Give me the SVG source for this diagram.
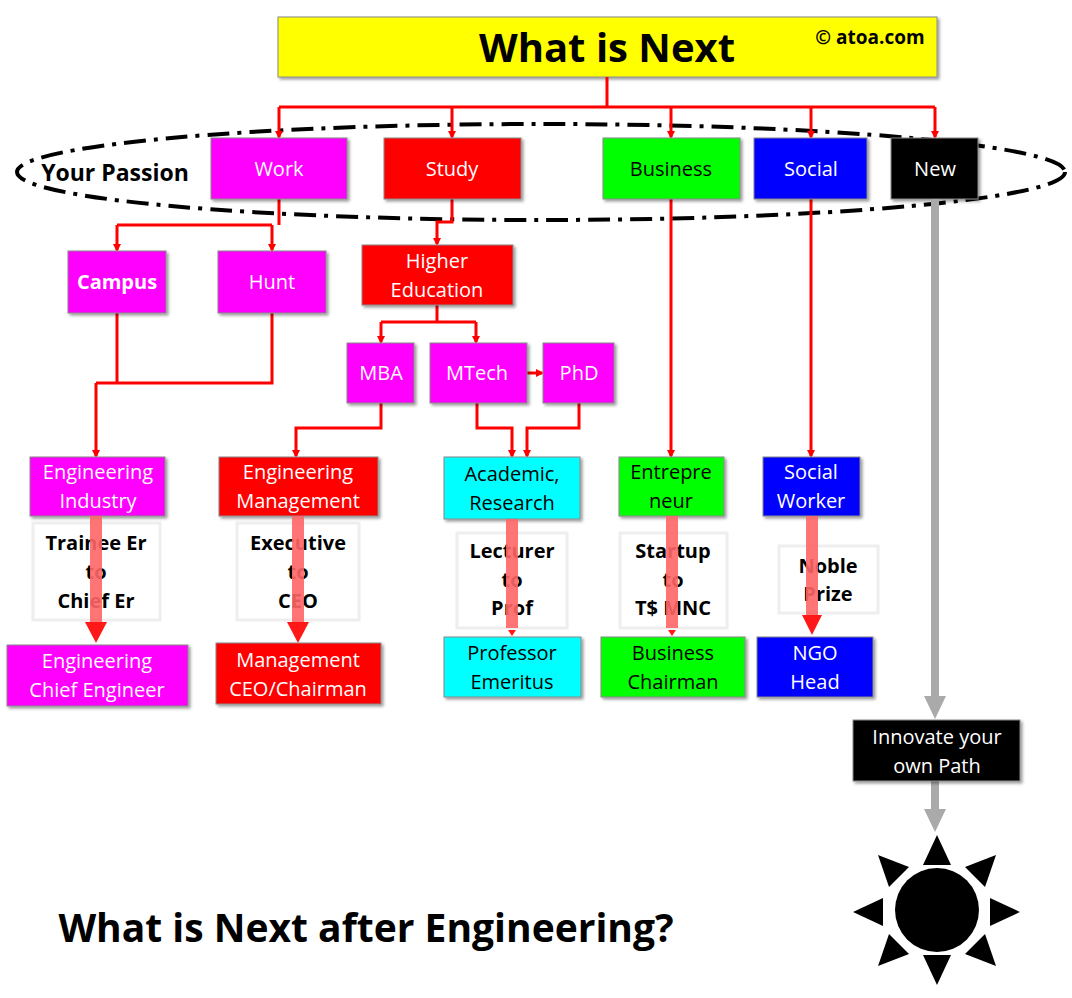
<svg xmlns="http://www.w3.org/2000/svg" width="1072" height="998" viewBox="0 0 1072 998">
<style>
text{font-family:"Open Sans","Liberation Sans",sans-serif;text-anchor:middle;font-size:20px}
.w{fill:#fff}.k{fill:#000}.b{font-weight:bold}
.box{stroke:#888;stroke-width:1}
.m{fill:#ff00ff}.r{fill:#ff0000}.g{fill:#00ff00}.bl{fill:#0000ff}.c{fill:#00ffff}.bk{fill:#000}
.ln{fill:none;stroke:#ff0000;stroke-width:3}
.tb{fill:#fff;stroke:#eee;stroke-width:3}
.fat{stroke:#ff6666;stroke-width:12}
.gray{stroke:#aaa;stroke-width:8}
</style>
<defs>
<marker id="a" markerWidth="8" markerHeight="8" refX="6" refY="4" orient="auto" markerUnits="userSpaceOnUse" viewBox="0 0 8 8"><path d="M0,0L8,4L0,8z" fill="#ff0000"/></marker>
<filter id="s"><feDropShadow dx="2" dy="2" stdDeviation="1.5" flood-opacity="0.4"/></filter>
</defs>
<rect width="1072" height="998" fill="#fff"/>
<g id="title"><rect x="278" y="17" width="659" height="60" fill="#ffff00" class="box" filter="url(#s)"/>
<text x="607" y="62" class="b k" style="font-size:40px">What is Next</text>
<text x="870" y="44" class="b k" style="font-size:19px">© atoa.com</text></g>
<ellipse cx="541" cy="172" rx="524" ry="48" fill="none" stroke="#000" stroke-width="4" stroke-dasharray="22,8,4,8"/>
<text x="115" y="181" class="b k" style="font-size:23px">Your Passion</text>
<g id="connectors">
<path class="ln" d="M607,77V107M279,107H935"/>
<path class="ln" marker-end="url(#a)" d="M279,107V137"/>
<path class="ln" marker-end="url(#a)" d="M452,107V137"/>
<path class="ln" marker-end="url(#a)" d="M671,107V137"/>
<path class="ln" marker-end="url(#a)" d="M811,107V137"/>
<path class="ln" marker-end="url(#a)" d="M935,107V137"/>
<path class="ln" d="M279,199V225M117,225H272"/>
<path class="ln" marker-end="url(#a)" d="M117,225V250"/>
<path class="ln" marker-end="url(#a)" d="M272,225V250"/>
<path class="ln" marker-end="url(#a)" d="M452,199V222H437V244"/>
<path class="ln" d="M437,305V322M381,322H476"/>
<path class="ln" marker-end="url(#a)" d="M381,322V342"/>
<path class="ln" marker-end="url(#a)" d="M476,322V342"/>
<path class="ln" marker-end="url(#a)" d="M527,373H542"/>
<path class="ln" d="M117,313V383M272,313V383H96"/>
<path class="ln" marker-end="url(#a)" d="M96,383V456"/>
<path class="ln" marker-end="url(#a)" d="M381,403V428H296V456"/>
<path class="ln" marker-end="url(#a)" d="M477,403V428H512V456"/>
<path class="ln" marker-end="url(#a)" d="M579,403V428H527V456"/>
<path class="ln" marker-end="url(#a)" d="M671,199V456"/>
<path class="ln" marker-end="url(#a)" d="M811,199V456"/>
</g>
<g id="work"><rect x="211" y="138" width="136" height="61" class="m box" filter="url(#s)"/><text x="279" y="176" class="w">Work</text></g>
<g id="study"><rect x="384" y="138" width="137" height="61" class="r box" filter="url(#s)"/><text x="452" y="176" class="w">Study</text></g>
<g id="business"><rect x="603" y="138" width="137" height="61" class="g box" filter="url(#s)"/><text x="671" y="176" class="k">Business</text></g>
<g id="social"><rect x="754" y="138" width="113" height="61" class="bl box" filter="url(#s)"/><text x="811" y="176" class="w">Social</text></g>
<g id="new"><rect x="891" y="138" width="87" height="61" class="bk box" filter="url(#s)"/><text x="935" y="176" class="w">New</text></g>
<g id="campus"><rect x="68" y="251" width="98" height="62" class="m box" filter="url(#s)"/><text x="117" y="289" class="w b">Campus</text></g>
<g id="hunt"><rect x="218" y="251" width="108" height="62" class="m box" filter="url(#s)"/><text x="272" y="289" class="w">Hunt</text></g>
<g id="higher"><rect x="362" y="245" width="151" height="60" class="r box" filter="url(#s)"/><text x="437" y="268" class="w">Higher</text><text x="437" y="297" class="w">Education</text></g>
<g id="mba"><rect x="347" y="343" width="67" height="60" class="m box" filter="url(#s)"/><text x="381" y="380" class="w">MBA</text></g>
<g id="mtech"><rect x="430" y="343" width="97" height="60" class="m box" filter="url(#s)"/><text x="477" y="380" class="w">MTech</text></g>
<g id="phd"><rect x="543" y="343" width="71" height="60" class="m box" filter="url(#s)"/><text x="579" y="380" class="w">PhD</text></g>
<g id="engind"><rect x="30" y="457" width="135" height="59" class="m box" filter="url(#s)"/><text x="98" y="479" class="w">Engineering</text><text x="98" y="508" class="w">Industry</text></g>
<g id="engmgmt"><rect x="219" y="457" width="159" height="59" class="r box" filter="url(#s)"/><text x="298" y="479" class="w">Engineering</text><text x="298" y="508" class="w">Management</text></g>
<g id="academic"><rect x="444" y="457" width="136" height="62" class="c box" filter="url(#s)"/><text x="512" y="481" class="k">Academic,</text><text x="512" y="510" class="k">Research</text></g>
<g id="entre"><rect x="619" y="457" width="105" height="59" class="g box" filter="url(#s)"/><text x="671" y="479" class="k">Entrepre</text><text x="671" y="508" class="k">neur</text></g>
<g id="sworker"><rect x="763" y="457" width="97" height="59" class="bl box" filter="url(#s)"/><text x="811" y="479" class="w">Social</text><text x="811" y="508" class="w">Worker</text></g>
<g id="paths">
<rect x="33" y="523" width="127" height="97" class="tb"/>
<rect x="237" y="523" width="122" height="97" class="tb"/>
<rect x="457" y="533" width="110" height="95" class="tb"/>
<rect x="620" y="533" width="107" height="95" class="tb"/>
<rect x="779" y="546" width="99" height="67" class="tb"/>
<text x="96" y="550" class="b k">Trainee Er</text><text x="96" y="579" class="b k">to</text><text x="96" y="608" class="b k">Chief Er</text>
<text x="298" y="550" class="b k">Executive</text><text x="298" y="579" class="b k">to</text><text x="298" y="608" class="b k">CEO</text>
<text x="512" y="558" class="b k">Lecturer</text><text x="512" y="587" class="b k">to</text><text x="512" y="615" class="b k">Prof</text>
<text x="673" y="558" class="b k">Startup</text><text x="673" y="587" class="b k">to</text><text x="673" y="615" class="b k">T$ MNC</text>
<text x="828" y="573" class="b k">Noble</text><text x="828" y="601" class="b k">Prize</text>
<g opacity="0.9">
<line x1="96" y1="516" x2="96" y2="622" class="fat"/><path d="M85,622H107L96,643z" fill="#ff0000"/>
<line x1="298" y1="516" x2="298" y2="622" class="fat"/><path d="M287,622H309L298,643z" fill="#ff0000"/>
<line x1="512" y1="519" x2="512" y2="628" class="fat"/><path d="M508,630H516L512,636z" fill="#ff0000"/>
<line x1="672" y1="516" x2="672" y2="628" class="fat"/><path d="M668,630H676L672,636z" fill="#ff0000"/>
<line x1="812" y1="516" x2="812" y2="615" class="fat"/><path d="M802,615H822L812,635z" fill="#ff0000"/>
</g></g>
<g id="chiefeng"><rect x="7" y="645" width="181" height="61" class="m box" filter="url(#s)"/><text x="97" y="668" class="w">Engineering</text><text x="97" y="697" class="w">Chief Engineer</text></g>
<g id="ceo"><rect x="216" y="643" width="165" height="61" class="r box" filter="url(#s)"/><text x="298" y="667" class="w">Management</text><text x="298" y="696" class="w">CEO/Chairman</text></g>
<g id="prof"><rect x="444" y="637" width="137" height="60" class="c box" filter="url(#s)"/><text x="512" y="660" class="k">Professor</text><text x="512" y="689" class="k">Emeritus</text></g>
<g id="bchair"><rect x="601" y="637" width="144" height="60" class="g box" filter="url(#s)"/><text x="673" y="660" class="k">Business</text><text x="673" y="689" class="k">Chairman</text></g>
<g id="ngo"><rect x="757" y="637" width="116" height="60" class="bl box" filter="url(#s)"/><text x="815" y="660" class="w">NGO</text><text x="815" y="689" class="w">Head</text></g>
<g id="newpath">
<line x1="935" y1="199" x2="935" y2="697" class="gray"/><path d="M924,696H946L935,719z" fill="#aaa"/>
<line x1="935" y1="781" x2="935" y2="810" class="gray"/><path d="M924,809H946L935,832z" fill="#aaa"/>
</g>
<g id="innovate"><rect x="853" y="720" width="167" height="61" class="bk box" filter="url(#s)"/><text x="937" y="744" class="w">Innovate your</text><text x="937" y="773" class="w">own Path</text></g>
<g id="sun" fill="#000">
<circle cx="937" cy="910" r="42"/>
<path d="M937,835L951,865H923z"/><path d="M937,985L951,955H923z"/>
<path d="M853,912L883,898V926z"/><path d="M1020,912L990,898V926z"/>
<path d="M878,855L909,867L889,887z"/><path d="M996,855L965,867L985,887z"/>
<path d="M878,966L909,954L889,934z"/><path d="M996,966L965,954L985,934z"/>
</g>
<text x="366" y="942" class="b k" style="font-size:39px">What is Next after Engineering?</text>
</svg>
